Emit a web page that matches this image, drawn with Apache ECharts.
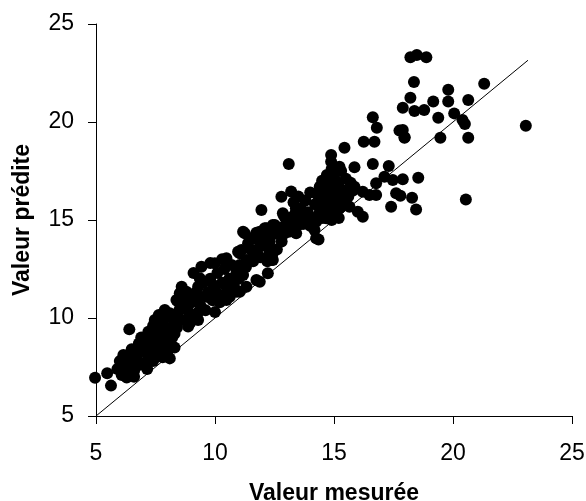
<!DOCTYPE html>
<html>
<head>
<meta charset="utf-8">
<script src="https://cdn.jsdelivr.net/npm/echarts@6/dist/echarts.min.js"></script>
<style>
  html, body { margin: 0; padding: 0; background: #fff; }
  #chart { width: 586px; height: 501px; }
</style>
</head>
<body>
<div id="chart"></div>
<script>
// axis ticks
var ticks = [5, 10, 15, 20, 25]
// y = x reference line ends
var diagonal = [[5, 5], [23.15, 23.15]]

var lowPoints = [
  [4.96, 6.95], [5.47, 7.18], [5.63, 6.55], [6.40, 9.42], [6.15, 8.11], [6.08, 7.09], [6.29, 6.97],
  [7.15, 7.40], [7.64, 10.15], [7.47, 9.90], [8.10, 10.24], [8.38, 10.07], [7.96, 8.28], [8.10, 7.94],
  [8.94, 9.73], [8.45, 10.83], [8.80, 11.09], [9.36, 11.09], [10.06, 11.26], [10.62, 11.09], [11.04, 11.34],
  [5.9, 7.4], [6.0, 7.8], [6.2, 7.5], [6.3, 8.0], [6.4, 7.2], [6.5, 8.4], [6.5, 7.7], [6.6, 7.3],
  [6.7, 8.1], [6.8, 8.7], [6.8, 7.6], [6.9, 9.0], [7.0, 8.3], [7.0, 7.7], [7.1, 8.8], [7.2, 9.3],
  [7.2, 8.0], [7.3, 8.5], [7.4, 7.8], [7.4, 9.6], [7.5, 8.9], [7.6, 8.2], [7.6, 9.3], [7.7, 8.6],
  [7.8, 9.8], [7.8, 8.0], [7.9, 9.2], [8.0, 8.7], [8.1, 9.5], [8.2, 9.0], [8.3, 8.5], [8.3, 9.9],
  [7.1, 7.6], [6.6, 7.0], [6.9, 8.4], [7.3, 9.0], [7.5, 8.1], [8.0, 8.3], [7.7, 9.0], [6.4, 7.6]
]
var midPoints = [
  [11.25, 14.32], [11.74, 14.35], [12.16, 14.58], [12.51, 14.74], [13.27, 14.66], [13.41, 14.32], [14.18, 14.49],
  [11.39, 13.81], [11.67, 13.38], [11.88, 13.64], [12.30, 13.38], [12.43, 12.96], [14.25, 14.07], [10.97, 13.38],
  [9.43, 12.62], [9.99, 12.79], [10.48, 13.05], [11.04, 13.30], [11.04, 12.70], [11.18, 12.19], [12.22, 12.28],
  [11.74, 11.94], [11.88, 11.85], [9.36, 12.03], [9.29, 11.60], [8.52, 11.26], [8.38, 10.92], [8.80, 11.34],
  [8.94, 10.75], [9.22, 10.83], [9.64, 11.09], [10.20, 11.17], [10.48, 10.92], [10.90, 11.34], [11.32, 11.60],
  [10.48, 11.60], [9.92, 11.68], [7.89, 10.41], [7.68, 9.90], [8.10, 10.07], [8.94, 10.07], [8.87, 9.56],
  [9.29, 9.90], [7.96, 9.39], [7.82, 9.05],
  [8.4, 9.5], [8.5, 10.4], [8.6, 9.9], [8.7, 10.7], [8.9, 10.3], [9.0, 11.0], [9.1, 10.1], [9.2, 11.3],
  [9.4, 10.6], [9.5, 11.8], [9.6, 10.4], [9.7, 11.3], [9.8, 12.0], [9.9, 10.9], [10.0, 11.5], [10.1, 12.3],
  [10.2, 10.8], [10.3, 11.8], [10.4, 12.5], [10.5, 11.3], [10.6, 12.0], [10.7, 12.7], [10.8, 11.6], [10.9, 12.3],
  [11.0, 12.0], [8.3, 9.2], [8.6, 11.6], [9.1, 12.3], [9.3, 10.3], [9.8, 12.8], [10.3, 13.0], [10.0, 10.3],
  [11.3, 12.6], [11.5, 13.5], [11.6, 12.9], [11.8, 14.0], [11.9, 13.1], [12.0, 13.7], [12.1, 14.2], [12.2, 12.9],
  [12.3, 13.9], [12.5, 14.3], [12.6, 13.5], [12.7, 14.6], [12.8, 13.9], [12.9, 14.3], [13.0, 14.9], [13.1, 14.4],
  [13.2, 14.5], [13.3, 15.2], [13.5, 14.8], [13.6, 15.3], [12.4, 13.2], [11.7, 13.2], [12.9, 15.2], [13.4, 15.6]
]
var highPoints = [
  [13.10, 17.86], [14.88, 17.97], [15.23, 17.72], [15.86, 17.69], [16.63, 17.86], [17.30, 17.76], [14.74, 17.21],
  [14.60, 16.79], [14.81, 16.53], [15.09, 16.87], [15.16, 16.36], [15.86, 16.70], [16.21, 16.44], [16.49, 16.28],
  [16.77, 16.87], [17.12, 17.21], [17.47, 17.04], [17.61, 16.36], [17.40, 15.68], [12.79, 16.19], [13.20, 16.45],
  [11.95, 15.51], [15.44, 15.77], [15.65, 15.68], [16.00, 15.42], [16.21, 15.17], [12.85, 15.34], [13.13, 15.09],
  [13.48, 14.74], [14.25, 14.91], [14.67, 15.09], [14.95, 15.34], [15.23, 15.60], [14.35, 14.01], [11.18, 14.40],
  [11.46, 14.07], [11.88, 14.40], [12.09, 14.58], [12.43, 14.74], [11.60, 13.30], [12.30, 13.30], [12.37, 12.96],
  [11.11, 13.47], [11.32, 12.96], [16.77, 16.28],
  [16.63, 20.24], [16.80, 19.71], [17.75, 19.56], [17.97, 19.22], [16.25, 18.99], [16.70, 18.99], [15.44, 18.69],
  [14.88, 18.32],
  [13.3, 15.9], [13.5, 16.2], [13.6, 15.6], [13.8, 15.0], [13.8, 16.0], [13.9, 15.4], [14.0, 16.4], [14.1, 15.1],
  [14.2, 15.8], [14.3, 16.3], [14.4, 15.4], [14.5, 15.9], [14.6, 16.4], [14.7, 15.6], [14.8, 16.1], [14.9, 15.0],
  [15.0, 15.8], [15.1, 16.3], [13.7, 14.8], [14.0, 14.7], [14.5, 15.1], [13.4, 15.4], [15.2, 15.1],
  [14.5, 17.0], [14.4, 16.7], [14.7, 17.3], [14.8, 16.8], [15.0, 17.2], [15.0, 16.6], [15.2, 16.9], [15.3, 17.5],
  [15.4, 16.5], [15.5, 17.1], [15.6, 16.2], [15.7, 16.9], [15.8, 16.5], [15.5, 15.9], [15.3, 16.1], [14.9, 17.6]
]
var topPoints = [
  [18.21, 23.30], [18.48, 23.42], [18.88, 23.30], [18.36, 22.04], [21.31, 21.95], [19.80, 21.65], [18.21, 21.24],
  [19.80, 21.04], [19.17, 21.04], [20.64, 21.12], [17.89, 20.73], [18.38, 20.56], [18.79, 20.61], [19.38, 20.22],
  [20.05, 20.44], [20.40, 20.10], [20.50, 19.90], [17.89, 19.59], [17.96, 19.20], [19.47, 19.20], [20.64, 19.20],
  [23.06, 19.81], [17.89, 17.08], [18.54, 17.16], [17.79, 16.24], [18.28, 16.14], [18.45, 15.54], [20.54, 16.05]
]

var points = lowPoints.concat(midPoints, highPoints, topPoints)

var chart = echarts.init(document.getElementById('chart'))

var axisCommon = {
  type: 'value',
  min: ticks[0],
  max: ticks[ticks.length - 1],
  interval: 5,
  nameLocation: 'middle',
  nameTextStyle: {
    fontFamily: 'Liberation Sans',
    fontSize: 23,
    fontWeight: 'bold',
    color: '#000'
  },
  splitLine: { show: false },
  axisLine: { show: true, onZero: false, lineStyle: { color: '#000', width: 1 } },
  axisTick: { show: true, inside: false, length: 8, lineStyle: { color: '#000', width: 1 } },
  axisLabel: {
    fontFamily: 'Liberation Sans',
    fontSize: 23,
    color: '#000'
  }
}

var option = {
  animation: false,
  backgroundColor: '#fff',
  grid: {
    left: 96,
    right: 14,
    top: 24,
    bottom: 85,
    containLabel: false,
    outerBoundsMode: 'none'
  },
  xAxis: echarts.util.merge({
    name: 'Valeur mesurée',
    nameGap: 66,
    axisLabel: { margin: 26 }
  }, axisCommon),
  yAxis: echarts.util.merge({
    name: 'Valeur prédite',
    nameGap: 62,
    axisLabel: { margin: 22 }
  }, axisCommon),
  series: [
    {
      type: 'line',
      data: diagonal,
      symbol: 'none',
      silent: true,
      lineStyle: { color: '#000', width: 1 }
    },
    {
      type: 'scatter',
      data: points,
      symbol: 'circle',
      symbolSize: 12,
      clip: false,
      itemStyle: { color: '#000', opacity: 1 }
    }
  ]
}

chart.setOption(option)
window.addEventListener('resize', function() {
  chart.resize()
})
</script>
</body>
</html>
